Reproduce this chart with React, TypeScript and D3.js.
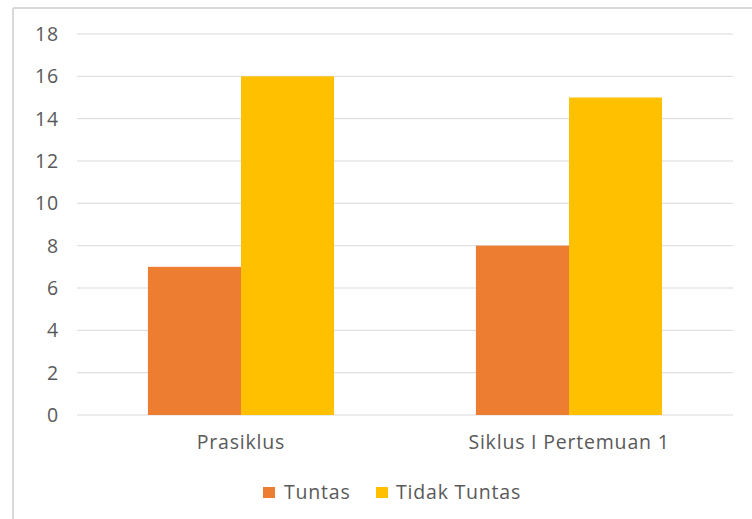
import React from "react";
import * as d3 from "d3";

const categories = ["Prasiklus", "Siklus I Pertemuan 1"];
const seriesNames = ["Tuntas", "Tidak Tuntas"];
const tuntas = [7, 8];
const tidakTuntas = [16, 15];
const yTicks = [0, 2, 4, 6, 8, 10, 12, 14, 16, 18];
const colors = ["#ED7D31", "#FFC000"];

export default function App() {
  const W = 752, H = 519;
  const left = 77, right = 733, top = 34, bottom = 415;
  const font = "'Open Sans', sans-serif";
  const fs = 19.5;
  const ls = 0.8;
  const catBand = d3.scaleBand().domain(categories).range([left, right]).padding(0);
  const groupInner = 0.5675; // fraction of band occupied by bars
  const x1 = d3.scaleBand().domain(seriesNames).range([0, catBand.bandwidth() * groupInner]).padding(0);
  const y = d3.scaleLinear().domain([0, 18]).range([bottom, top]);
  const values = [tuntas, tidakTuntas];
  return (
    <svg width={W} height={H} style={{ position: "absolute", left: 0, top: 0, background: "#fff" }}>
      <line x1={13} x2={13} y1={8} y2={H} stroke="#d9d9d9" strokeWidth={2} />
      <line x1={13} x2={W} y1={8} y2={8} stroke="#d9d9d9" strokeWidth={2} />
      {yTicks.map((t) => (
        <g key={t}>
          <line x1={left} x2={right} y1={y(t)} y2={y(t)} stroke="#d9d9d9" strokeWidth={1} />
          <text x={59} y={y(t)} dy="0.36em" textAnchor="end" fontFamily={font} fontSize={fs} letterSpacing={ls} fill="#595959">{t}</text>
        </g>
      ))}
      {categories.map((c, ci) => {
        const bx = catBand(c)! + catBand.bandwidth() * (1 - groupInner) / 2;
        return (
          <g key={c}>
            {seriesNames.map((s, si) => (
              <rect key={s} x={bx + x1(s)!} width={x1.bandwidth()} y={y(values[si][ci])} height={bottom - y(values[si][ci])} fill={colors[si]} />
            ))}
            <text x={catBand(c)! + catBand.bandwidth() / 2} y={449} textAnchor="middle" fontFamily={font} fontSize={fs} letterSpacing={ls} fill="#595959">{c}</text>
          </g>
        );
      })}
      <g>
        <rect x={263} y={487} width={12} height={11} fill={colors[0]} />
        <text x={284} y={499} fontFamily={font} fontSize={fs} letterSpacing={ls} fill="#595959">{seriesNames[0]}</text>
        <rect x={376} y={487} width={12} height={11} fill={colors[1]} />
        <text x={396} y={499} fontFamily={font} fontSize={fs} letterSpacing={ls} fill="#595959">{seriesNames[1]}</text>
      </g>
    </svg>
  );
}
